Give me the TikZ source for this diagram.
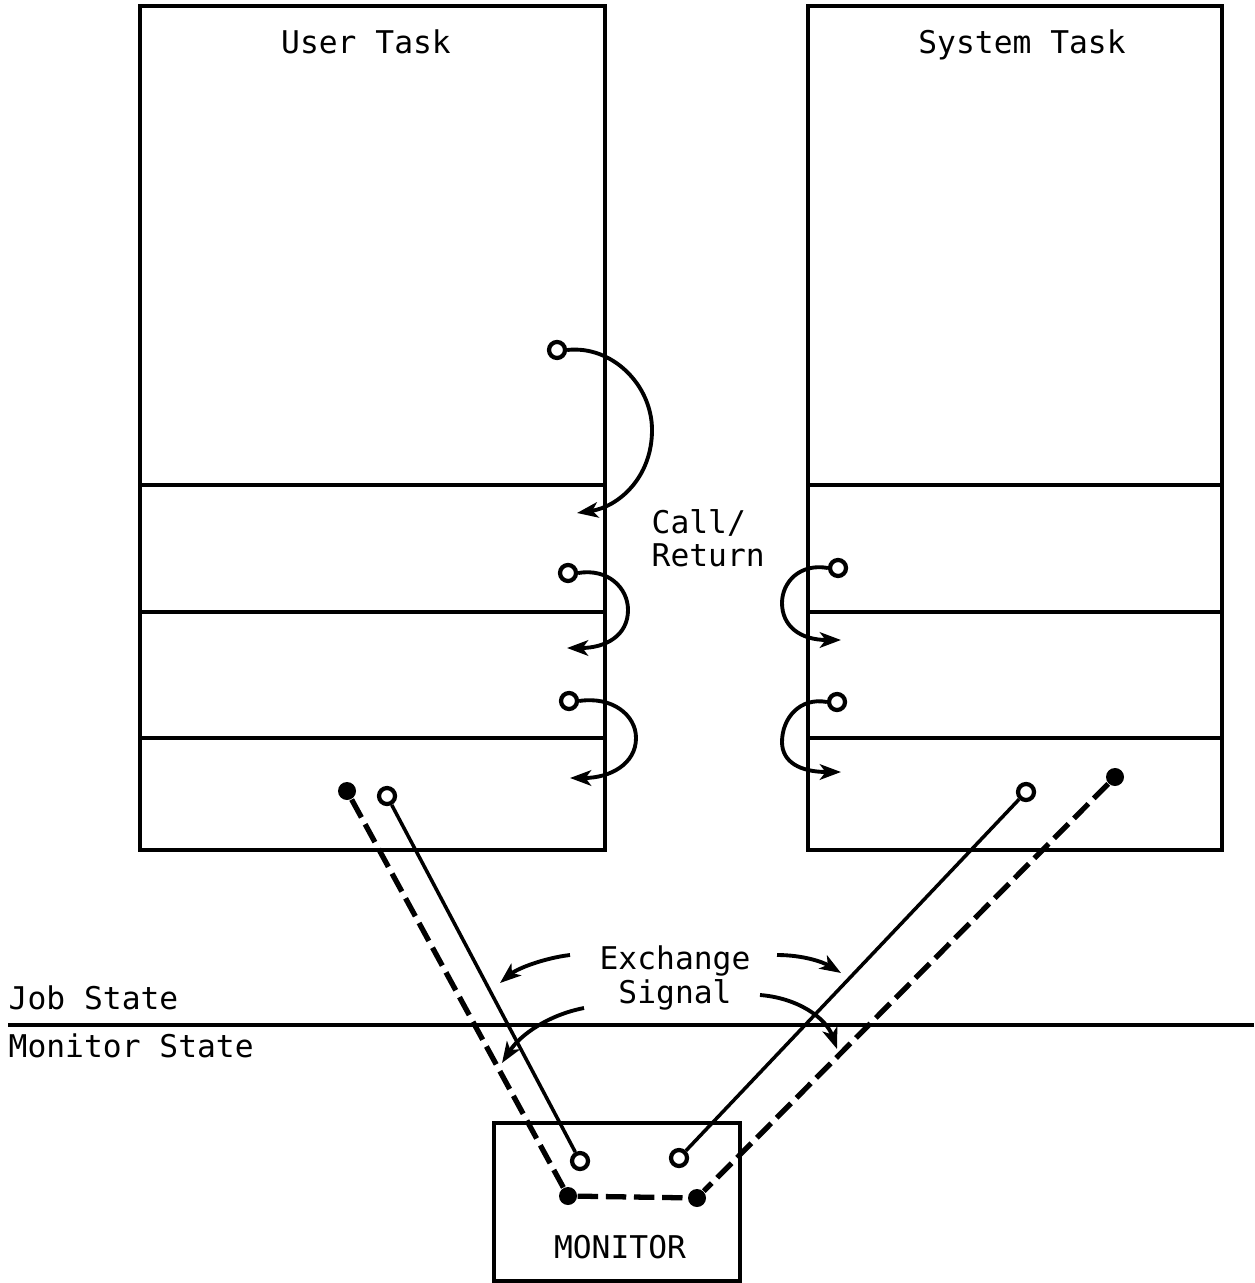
\documentclass[tikz,border=0pt]{standalone}
\usepackage{fontspec}
\setmonofont{DejaVu Sans Mono}
\usepackage{tikz}
\usetikzlibrary{arrows.meta, positioning}

\begin{document}
\begin{tikzpicture}[x=0.01cm, y=-0.01cm, >={Stealth[length=6pt, width=4.4pt, inset=1.6pt]},
  box/.style={draw, line width=1.05pt, inner sep=0pt},
  txt/.style={font=\ttfamily\fontsize{8.9}{9.6}\selectfont, inner sep=0pt},
  port/.style={circle, draw, line width=1.2pt, fill=white, inner sep=0pt, minimum size=0.16cm},
  dot/.style={circle, fill=black, inner sep=0pt, minimum size=0.18cm},
  sig/.style={line width=1pt},
  xsig/.style={line width=1.5pt, dash pattern=on 5.8pt off 2.2pt},
  call/.style={->, line width=1.1pt}]
\useasboundingbox (0,0) rectangle (1254,1283);

% Task boxes
\node[box, minimum width=4.65cm, minimum height=8.44cm] (user) at (372.5,428) {};
\node[box, minimum width=4.14cm, minimum height=8.44cm] (sys) at (1015,428) {};
\node[txt, anchor=base] (usertitle) at (366,54) {User Task};
\node[txt, anchor=base] (systitle) at (1022,54) {System Task};
\foreach \y in {485,612,738} {
  \draw[line width=1.05pt] (user.west |- 0,\y) -- (user.east |- 0,\y);
  \draw[line width=1.05pt] (sys.west |- 0,\y) -- (sys.east |- 0,\y);
}

% Monitor
\node[box, minimum width=2.46cm, minimum height=1.58cm] (mon) at (617,1202) {};
\node[txt, anchor=base] (montitle) at (620,1258) {MONITOR};

% State boundary
\draw[line width=1.1pt] (8,1025) -- (1254,1025);
\node[txt, anchor=base west] (job) at (8,1009) {Job State};
\node[txt, anchor=base west] (monstate) at (8,1057) {Monitor State};

% Call/Return
\node[txt, align=left, anchor=base west] (callret) at (651,567) {Call/\\Return};
\node[port] (u1) at (557,350) {};
\node[port] (u2) at (568,573) {};
\node[port] (u3) at (569,701) {};
\node[port] (s1) at (838,568) {};
\node[port] (s2) at (837,702) {};
\coordinate (u1r) at (577,513);
\coordinate (u2r) at (567,648);
\coordinate (u3r) at (570,778);
\coordinate (s1r) at (841,640);
\coordinate (s2r) at (841,772);
\draw[call] (u1.east) .. controls (612,345) and (652,385) .. (652,430)
  .. controls (652,478) and (618,507) .. (u1r);
\draw[call] (u2.east) .. controls (608,568) and (628,588) .. (628,610)
  .. controls (628,636) and (605,648) .. (u2r);
\draw[call] (u3.east) .. controls (612,696) and (636,715) .. (636,738)
  .. controls (636,764) and (610,778) .. (u3r);
\draw[call] (s1.west) .. controls (800,563) and (782,582) .. (782,603)
  .. controls (782,626) and (800,640) .. (s1r);
\draw[call] (s2.west) .. controls (800,697) and (782,718) .. (782,742)
  .. controls (782,762) and (800,772) .. (s2r);

% Exchange paths
\node[dot] (ua) at (347,791) {};
\node[port] (ub) at (387,796) {};
\node[port] (sb) at (1026,792) {};
\node[dot] (sa) at (1115,777) {};
\node[port] (mb1) at (580,1161) {};
\node[port] (mb2) at (679,1158) {};
\node[dot] (ma1) at (568,1196) {};
\node[dot] (ma2) at (697,1198) {};
\draw[sig] (ub) -- (mb1);
\draw[sig] (sb) -- (mb2);
\draw[xsig] (ua) -- (ma1);
\draw[xsig] (sa) -- (ma2);
\draw[xsig] (ma1) -- (ma2);

% Exchange Signal
\node[txt, align=center] (xsignal) at (675,978) {Exchange\\Signal};
\coordinate (x1) at (570,955);
\coordinate (x2) at (584,1008);
\coordinate (x3) at (777,955);
\coordinate (x4) at (760,995);
\draw[call] (x1) .. controls (545,958) and (518,968) .. (500,983);
\draw[call] (x2) .. controls (548,1015) and (520,1035) .. (502,1063);
\draw[call] (x3) .. controls (803,955) and (823,962) .. (841,973);
\draw[call] (x4) .. controls (798,998) and (826,1018) .. (837,1049);

\end{tikzpicture}
\end{document}
